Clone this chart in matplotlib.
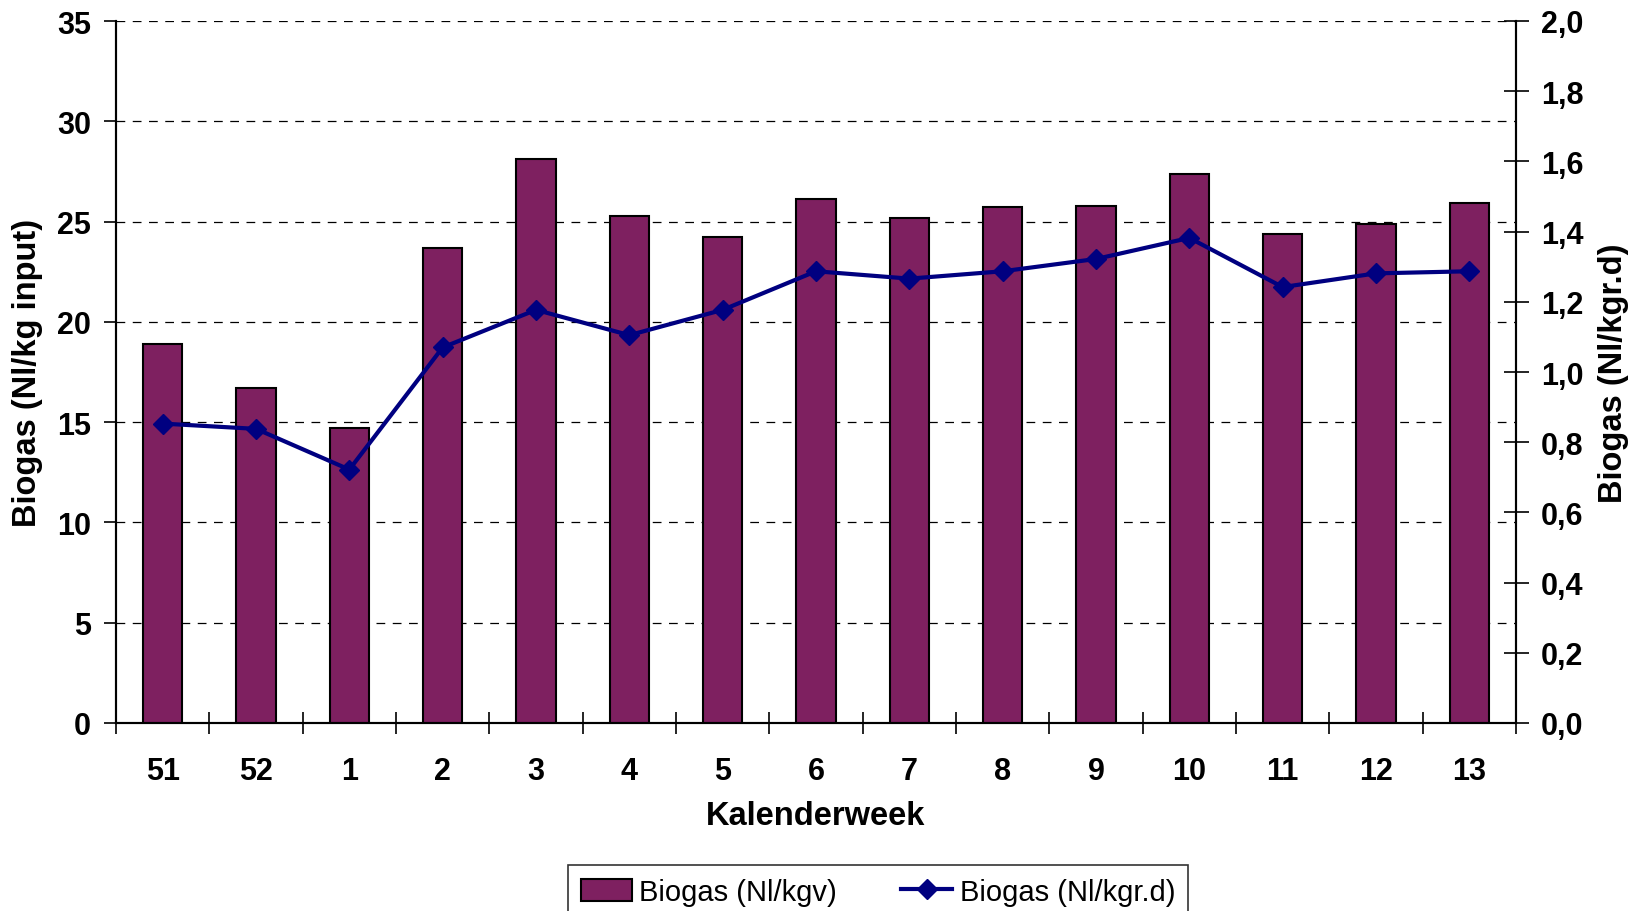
import matplotlib
matplotlib.use("Agg")
import matplotlib.pyplot as plt
import numpy as np
from matplotlib.ticker import FixedLocator

plt.rcParams['font.family'] = ['Liberation Sans', 'DejaVu Sans']

# Data
weeks = ["51", "52", "1", "2", "3", "4", "5", "6", "7", "8", "9", "10", "11", "12", "13"]
biogas_kgv = [18.9, 16.7, 14.7, 23.7, 28.1, 25.3, 24.25, 26.15, 25.2, 25.75, 25.8, 27.35, 24.4, 24.9, 25.95]
biogas_kgrd = [0.853, 0.838, 0.722, 1.070, 1.177, 1.105, 1.177, 1.287, 1.266, 1.287, 1.322, 1.382, 1.242, 1.281, 1.287]

bar_color = "#7E2060"
line_color = "#000080"

fig = plt.figure(figsize=(16.36, 9.12), dpi=100)
ax = fig.add_axes([116 / 1636, 188 / 912, 1400 / 1636, 702 / 912])
ax2 = ax.twinx()

x = np.arange(len(weeks))
bars = ax.bar(x, biogas_kgv, width=0.42, color=bar_color, edgecolor="black",
              linewidth=1.5, label="Biogas (Nl/kgv)", zorder=3)
line, = ax2.plot(x, biogas_kgrd, color=line_color, linewidth=3, marker="D",
                 markersize=10, label="Biogas (Nl/kgr.d)", zorder=4)

ax.set_xlim(-0.5, len(weeks) - 0.5)
ax.set_ylim(0, 35)
ax2.set_ylim(0, 2.0)

# gridlines
ax.set_yticks(np.arange(0, 36, 5))
ax.yaxis.grid(True, color="black", linestyle=(0, (7, 6)), linewidth=0.9, zorder=0)
ax.set_axisbelow(True)

# x ticks: labels at centres, marks at boundaries
ax.set_xticks(x)
ax.set_xticklabels(weeks)
ax.tick_params(axis="x", which="major", length=0, pad=24)
ax.xaxis.set_minor_locator(FixedLocator(np.arange(-0.5, len(weeks), 1)))
ax.tick_params(axis="x", which="minor", direction="inout", length=16, width=1.2)

ax.tick_params(axis="y", direction="out", length=9, width=1.2, pad=9)
ax2.set_yticks(np.arange(0, 2.01, 0.2))
ax2.set_yticklabels([f"{v:.1f}".replace(".", ",") for v in np.arange(0, 2.01, 0.2)])
ax2.tick_params(axis="y", direction="inout", length=18, width=1.2, pad=9)

for a in (ax, ax2):
    for lbl in a.get_xticklabels() + a.get_yticklabels():
        lbl.set_fontsize(22)
        lbl.set_fontweight("bold")
    a.spines["top"].set_visible(False)
    for s in ("left", "right", "bottom"):
        a.spines[s].set_linewidth(1.5)

ax.set_xlabel("Kalenderweek", fontsize=23.5, fontweight="bold", labelpad=10)
ax.set_ylabel("Biogas (Nl/kg input)", fontsize=23.5, fontweight="bold", labelpad=10)
ax2.set_ylabel("Biogas (Nl/kgr.d)", fontsize=23.5, fontweight="bold", labelpad=10)

leg = fig.legend(handles=[bars, line], loc="upper center", bbox_to_anchor=(878 / 1636, 1 - 866 / 912),
                 ncol=2, fontsize=21, frameon=True, fancybox=False, borderpad=0.45,
                 borderaxespad=0, handlelength=1.75, handleheight=0.8,
                 columnspacing=2.2, handletextpad=0.25)
leg.get_frame().set_edgecolor("black")
leg.get_frame().set_linewidth(1.2)

fig.savefig("out.png", dpi=100)
